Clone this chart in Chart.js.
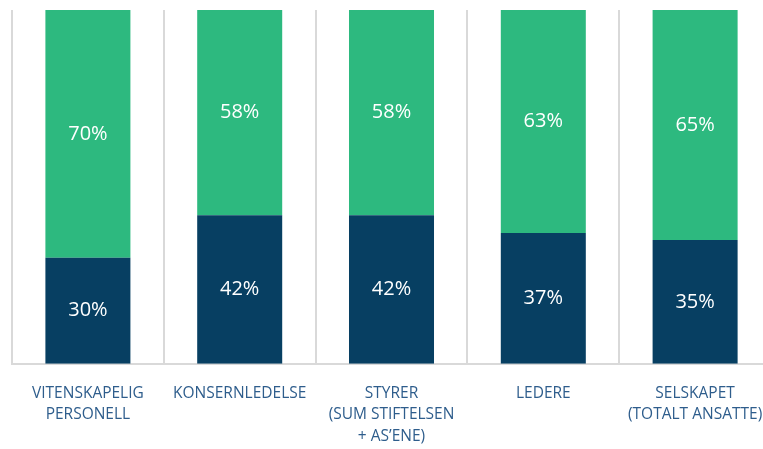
<!DOCTYPE html>
<html>
<head>
<meta charset="utf-8">
<script src="https://cdn.jsdelivr.net/npm/chart.js@4"></script>
<style>
  html, body { margin: 0; padding: 0; background: #fff; overflow: hidden; }
  #wrap { width: 763px; height: 449px; overflow: hidden; }
</style>
</head>
<body>
<div id="wrap"><canvas id="chart" width="782" height="449"></canvas></div>
<script>
// values (share in %)
const categories = [
    ['VITENSKAPELIG', 'PERSONELL'],
    ['KONSERNLEDELSE'],
    ['STYRER', '(SUM STIFTELSEN', '+ AS\u2019ENE)'],
    ['LEDERE'],
    ['SELSKAPET', '(TOTALT ANSATTE)']
];
const darkShare = [30, 42, 42, 37, 35];
const greenShare = [70, 58, 58, 63, 65];

const navy = '#073f62';
const green = '#2db97f';

// white percentage text in the middle of each segment
const barLabels = {
    id: 'barLabels',
    afterDatasetsDraw(chart) {
        const ctx = chart.ctx;
        ctx.save();
        ctx.fillStyle = '#ffffff';
        ctx.font = '20px "Open Sans", sans-serif';
        ctx.textAlign = 'center';
        ctx.textBaseline = 'middle';
        chart.data.datasets.forEach((ds, i) => {
            chart.getDatasetMeta(i).data.forEach((bar, j) => {
                const mid = (bar.y + bar.base) / 2;
                ctx.fillText(ds.data[j] + '%', bar.x, mid);
            });
        });
        ctx.restore();
    }
};

new Chart(document.getElementById('chart'), {
    type: 'bar',
    data: {
        labels: categories,
        datasets: [
            { label: 'Andel 1', data: darkShare, backgroundColor: navy },
            { label: 'Andel 2', data: greenShare, backgroundColor: green }
        ]
    },
    options: {
        responsive: false,
        animation: false,
        layout: { padding: { top: 10, left: 12, right: 8, bottom: -17 } },
        plugins: {
            legend: { display: false },
            tooltip: { enabled: false }
        },
        scales: {
            x: {
                stacked: true,
                offset: true,
                grid: { offset: true, color: '#d9d9d9', lineWidth: 2, drawTicks: false },
                border: { color: '#d9d9d9', width: 2 },
                ticks: {
                    color: '#2e5d8c',
                    font: { family: '"Open Sans", sans-serif', size: 15.5, lineHeight: 1.38 },
                    padding: 19,
                    maxRotation: 0,
                    autoSkip: false
                }
            },
            y: {
                stacked: true,
                display: false,
                min: 0,
                max: 100
            }
        },
        datasets: { bar: { categoryPercentage: 1, barPercentage: 0.56 } }
    },
    plugins: [barLabels]
});
</script>
</body>
</html>
